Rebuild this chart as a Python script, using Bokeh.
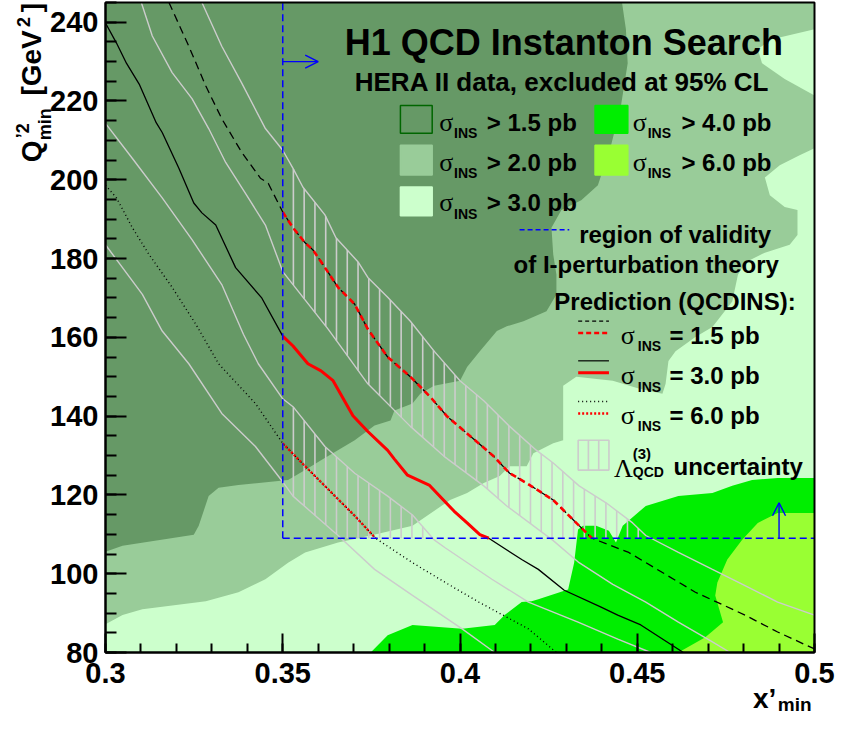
import numpy as np
from bokeh.plotting import figure
from bokeh.models import Range1d, Label, Arrow, OpenHead, FixedTicker, CustomJSTickFormatter
from bokeh.embed import file_html
from bokeh.resources import INLINE

# ---------------- data ----------------
X_VALID = 0.35     # region of validity of I-perturbation theory
Q2_VALID = 109.0

thresholds = [1.5, 2.0, 3.0, 4.0, 6.0]          # sigma_INS > ... pb
region_colors = ["#669966", "#99cc99", "#ccffcc", "#00ee00", "#99ff33"]

# boundary sigma>1.5 / sigma>2.0 (dark | medium)
dm_x = [0.3, 0.3048, 0.3249, 0.3263, 0.3291, 0.3319, 0.3375, 0.3515, 0.3563, 0.3608,
        0.3703, 0.3759, 0.3804, 0.3815, 0.3866, 0.3888, 0.3927, 0.4, 0.4020, 0.4056,
        0.4104, 0.4132, 0.4179, 0.4244, 0.4272, 0.4272, 0.4263, 0.4258, 0.4286, 0.4342,
        0.4389, 0.4426, 0.4454, 0.4473, 0.4468, 0.4457]
dm_y = [105.6, 107.1, 109.9, 112.2, 119.7, 121.8, 122.5, 123.8, 126.3, 128.8,
        133.9, 137.6, 138.9, 141.4, 143.2, 145.7, 147.7, 149.0, 152.5, 156.5,
        161.6, 162.8, 164.1, 166.6, 170.9, 175.9, 181.0, 187.8, 192.3, 194.8,
        198.6, 208.7, 218.8, 229.6, 238.2, 245.0]

# boundary sigma>2.0 / sigma>3.0 (medium | light)
ml_x = [0.3, 0.3048, 0.3104, 0.3283, 0.3375, 0.3451, 0.3515, 0.3563, 0.3656, 0.3748,
        0.3866, 0.3972, 0.4020, 0.4067, 0.4112, 0.4140, 0.4188, 0.4207, 0.4263, 0.4291,
        0.4291, 0.4291, 0.4328, 0.4431, 0.4504, 0.4571, 0.4580, 0.4588, 0.4608, 0.4664,
        0.4712, 0.4768, 0.4784, 0.4804, 0.4860, 0.4930, 0.4952, 0.4952, 0.4916, 0.4874,
        0.4860, 0.4902, 0.4958, 0.5]
ml_y = [87.2, 89.5, 91.0, 93.0, 95.3, 98.6, 102.8, 105.4, 107.9, 109.7,
        112.2, 118.7, 120.5, 123.0, 124.8, 127.3, 127.3, 130.6, 133.1, 133.9,
        141.4, 147.7, 150.0, 149.0, 147.0, 145.7, 148.2, 154.0, 156.5, 160.1,
        162.6, 169.1, 175.9, 179.0, 181.5, 183.5, 186.0, 192.3, 193.1, 196.1,
        200.6, 203.7, 206.2, 208.0]
blob_x = [0.5, 0.4880, 0.4840, 0.4852, 0.4916, 0.5]
blob_y = [238.2, 235.7, 233.2, 229.6, 225.6, 221.4]

# boundary sigma>4.0
br_x = [0.3748, 0.3796, 0.3866, 0.4006, 0.4098, 0.4126, 0.4174, 0.4202, 0.4221, 0.4305,
        0.4322, 0.4333, 0.4347, 0.4384, 0.4420, 0.4440, 0.4459, 0.4524, 0.4616, 0.4712,
        0.4768, 0.4824, 0.4896, 0.5]
br_y = [80.0, 84.4, 87.0, 86.0, 87.0, 89.5, 92.8, 93.0, 93.5, 96.0,
        102.8, 111.2, 112.2, 112.2, 110.9, 107.9, 112.2, 117.2, 119.7, 120.5,
        122.3, 123.8, 124.3, 124.3]

# boundary sigma>6.0
lm_x = [0.5, 0.4896, 0.4840, 0.4796, 0.4754, 0.4726, 0.4720, 0.4742, 0.4692, 0.4616]
lm_y = [115.4, 115.4, 112.9, 108.6, 103.6, 97.8, 94.5, 87.7, 83.9, 80.0]

# QCDINS predictions
p15_x = [0.3179, 0.3235, 0.3283, 0.3328, 0.3384, 0.3437, 0.3459, 0.35, 0.3529, 0.3563,
         0.3585, 0.3608, 0.3656, 0.3703, 0.3740, 0.3796, 0.3860, 0.3916, 0.3964, 0.4020,
         0.4095, 0.4140, 0.4188, 0.4263, 0.4336, 0.43725, 0.4476, 0.4571, 0.4664, 0.4804,
         0.4896, 0.5]
p15_y = [245.0, 233.9, 223.8, 215.5, 207.0, 200.4, 199.1, 191.8, 187.8, 184.0,
         182.2, 179.2, 172.7, 168.4, 162.1, 155.0, 150.0, 144.9, 139.9, 135.6,
         129.8, 125.5, 123.0, 118.7, 112.2, 109.0, 105.4, 100.3, 95.3, 89.5,
         85.2, 80.9]
p30_x = [0.3, 0.3031, 0.3059, 0.3095, 0.3143, 0.3160, 0.3207, 0.3249, 0.3272, 0.3311,
         0.3367, 0.3440, 0.35, 0.3529, 0.3571, 0.3608, 0.3642, 0.3698, 0.3740, 0.3796,
         0.3815, 0.3852, 0.3913, 0.3983, 0.4020, 0.4056, 0.40812, 0.4174, 0.4221, 0.4294,
         0.4398, 0.4445, 0.4510, 0.4630]
p30_y = [239.8, 234.7, 229.6, 224.3, 214.5, 212.0, 202.9, 194.1, 191.6, 188.5,
         177.7, 170.1, 160.3, 157.8, 153.3, 151.5, 149.0, 140.1, 136.1, 131.3,
         129.1, 125.0, 122.5, 115.9, 112.9, 109.9, 109.0, 103.6, 101.1, 95.8,
         91.5, 89.5, 87.0, 80.0]
p60_x = [0.3, 0.3031, 0.3076, 0.3123, 0.3188, 0.3255, 0.3319, 0.3423, 0.35, 0.3563,
         0.3703, 0.37619, 0.3866, 0.3958, 0.4053, 0.4193, 0.4272]
p60_y = [198.6, 195.4, 187.8, 181.0, 172.7, 163.3, 153.3, 143.2, 133.1, 127.3,
         114.7, 109.0, 102.8, 97.8, 92.8, 86.0, 80.0]

# Lambda_QCD uncertainty bands: 1.5 pb (upper/lower), 6.0 pb (upper/lower)
b15u_x = [0.3272, 0.3328, 0.3384, 0.3451, 0.35, 0.3529, 0.3557, 0.3619, 0.3650, 0.3712,
          0.3740, 0.3796, 0.3860, 0.3927, 0.4, 0.4067, 0.4140, 0.4216, 0.4263, 0.4336,
          0.4412, 0.4487, 0.4524, 0.4616, 0.4712, 0.4804, 0.4896, 0.5]
b15u_y = [245.0, 233.9, 224.6, 213.0, 207.5, 202.9, 198.1, 191.1, 185.3, 179.2,
          175.2, 170.2, 164.1, 156.5, 149.0, 143.9, 137.4, 131.3, 128.1, 122.3,
          118.0, 112.9, 109.7, 105.4, 101.1, 97.0, 92.8, 89.5]
b15l_x = [0.3101, 0.3132, 0.3188, 0.3244, 0.3291, 0.3339, 0.3398, 0.3451, 0.35, 0.3529,
          0.3628, 0.3740, 0.3860, 0.3955, 0.4067, 0.4132, 0.4196, 0.4263, 0.4336, 0.4431,
          0.4524, 0.4616, 0.4712, 0.4762]
b15l_y = [245.0, 236.5, 227.2, 220.6, 213.0, 204.4, 196.1, 188.5, 176.7, 173.4,
          162.1, 148.2, 137.4, 129.8, 122.3, 117.2, 112.9, 108.4, 102.8, 97.3,
          92.8, 87.7, 82.7, 80.0]
b60u_x = [0.3, 0.3076, 0.3160, 0.3244, 0.3328, 0.3389, 0.3431, 0.35, 0.3529, 0.3619,
          0.3703, 0.3796, 0.3866, 0.3927, 0.3958, 0.4090, 0.4193, 0.4333, 0.4445, 0.4538]
b60u_y = [214.3, 205.4, 195.4, 184.8, 173.4, 160.8, 153.3, 144.4, 142.4, 132.3,
          125.5, 119.7, 114.9, 108.6, 106.6, 98.6, 92.8, 87.7, 83.4, 80.0]
b60l_x = [0.3, 0.3104, 0.3160, 0.3235, 0.3328, 0.3423, 0.3496, 0.3529, 0.3656, 0.3759,
          0.3866, 0.4006, 0.4098]
b60l_y = [183.5, 170.9, 161.6, 153.3, 140.7, 132.3, 123.8, 119.7, 109.7, 101.1,
          94.5, 86.0, 80.0]

x_ticks = [0.3, 0.35, 0.4, 0.45, 0.5]
y_ticks = [80, 100, 120, 140, 160, 180, 200, 220, 240]
X_LIM = (0.3, 0.5)
Y_LIM = (80, 245)

# ---------------- figure ----------------
FONT = "Liberation Sans"
SERIF = "Liberation Serif"
W, H = 835, 714
# plot box inside the canvas (pixels from canvas top-left)
BOX_L, BOX_R, BOX_T, BOX_B = 105, 814, 2, 652
sx = (BOX_R - BOX_L) / (X_LIM[1] - X_LIM[0])
sy = (BOX_B - BOX_T) / (Y_LIM[1] - Y_LIM[0])
x_range = Range1d(X_LIM[0] - BOX_L / sx, X_LIM[1] + (W - BOX_R) / sx)
y_range = Range1d(Y_LIM[0] - (H - BOX_B) / sy, Y_LIM[1] + BOX_T / sy)

p = figure(width=W, height=H, x_range=x_range, y_range=y_range, title=None,
           output_backend="svg", toolbar_location=None, min_border=0)
p.background_fill_color = "white"
p.border_fill_color = "white"
p.outline_line_color = None
p.xgrid.grid_line_color = None
p.ygrid.grid_line_color = None

p.xaxis.fixed_location = Y_LIM[0]
p.yaxis.fixed_location = X_LIM[0]
p.xaxis.bounds = X_LIM
p.yaxis.bounds = Y_LIM
p.xaxis.ticker = FixedTicker(ticks=x_ticks, minor_ticks=list(np.round(np.arange(0.30, 0.5001, 0.01), 2)))
p.yaxis.ticker = FixedTicker(ticks=y_ticks, minor_ticks=list(range(80, 246, 5)))
p.xaxis.formatter = CustomJSTickFormatter(code="return String(Math.round(tick*100)/100)")
for ax in (p.xaxis[0], p.yaxis[0]):
    ax.axis_line_width = 2
    ax.major_tick_line_width = 2
    ax.minor_tick_line_width = 2
    ax.major_tick_out = 0
    ax.minor_tick_out = 0
    ax.major_label_text_font = FONT
    ax.major_label_text_font_style = "bold"
    ax.major_label_text_font_size = "29px"
    ax.major_label_text_color = "black"
p.xaxis.major_tick_in = 19
p.xaxis.minor_tick_in = 9
p.yaxis.major_tick_in = 21
p.yaxis.minor_tick_in = 11
p.xaxis.major_label_standoff = 10
p.yaxis.major_label_standoff = 7

# excluded regions
p.quad(left=X_LIM[0], right=X_LIM[1], bottom=Y_LIM[0], top=Y_LIM[1],
       fill_color=region_colors[0], line_color=None)
p.patch(dm_x + [0.5, 0.5, 0.3], dm_y + [245, 80, 80], fill_color=region_colors[1], line_color=None)
p.patch(ml_x + [0.5, 0.3], ml_y + [80, 80], fill_color=region_colors[2], line_color=None)
p.patch(blob_x, blob_y, fill_color=region_colors[2], line_color=None)
p.patch(br_x + [0.5], br_y + [80], fill_color=region_colors[3], line_color=None)
p.patch(lm_x + [0.5], lm_y + [80], fill_color=region_colors[4], line_color=None)

# uncertainty band lines
GRAY = "#cccccc"
for bx, by in ((b15u_x, b15u_y), (b15l_x, b15l_y), (b60u_x, b60u_y), (b60l_x, b60l_y)):
    p.line(bx, by, line_color=GRAY, line_width=1.4)

# hatching inside region of validity
def hatch(ux, uy, lx, ly):
    hx = np.arange(X_VALID + 0.003, 0.5, 0.00304)
    top = np.interp(hx, ux, uy)
    bot = np.maximum(np.interp(hx, lx, ly), Q2_VALID)
    m = top > bot
    p.segment(hx[m], bot[m], hx[m], top[m], line_color=GRAY, line_width=1.6)

hatch(b15u_x, b15u_y, b15l_x, b15l_y)
hatch(b60u_x, b60u_y, b60l_x, b60l_y)

# predictions
def valid(xs, ys):
    xs, ys = np.array(xs), np.array(ys)
    m = (xs >= X_VALID - 1e-9) & (ys >= Q2_VALID - 1e-9)
    return xs[m], ys[m]

p.line(p15_x, p15_y, line_color="black", line_width=1.3, line_dash="8 5")
p.line(p30_x, p30_y, line_color="black", line_width=1.3)
p.line(p60_x, p60_y, line_color="black", line_width=1.4, line_dash="1 3")
vx, vy = valid(p15_x, p15_y)
p.line(vx, vy, line_color="red", line_width=2.6, line_dash="6 4")
vx, vy = valid(p30_x, p30_y)
p.line(vx, vy, line_color="red", line_width=3)
vx, vy = valid(p60_x, p60_y)
p.line(vx, vy, line_color="red", line_width=2.4, line_dash="2 2")

# region of validity
p.line([X_VALID, X_VALID], [Q2_VALID, Y_LIM[1]], line_color="blue", line_width=1.5, line_dash="7 4")
p.line([X_VALID, X_LIM[1]], [Q2_VALID, Q2_VALID], line_color="blue", line_width=1.5, line_dash="7 4")
p.add_layout(Arrow(end=OpenHead(size=13, line_color="blue", line_width=1.4),
                   x_start=X_VALID, y_start=230, x_end=0.36, y_end=230,
                   line_color="blue", line_width=1.4))
p.add_layout(Arrow(end=OpenHead(size=13, line_color="blue", line_width=1.4),
                   x_start=0.49, y_start=Q2_VALID, x_end=0.49, y_end=118,
                   line_color="blue", line_width=1.4))

# frame
p.quad(left=X_LIM[0], right=X_LIM[1], bottom=Y_LIM[0], top=Y_LIM[1],
       fill_color=None, line_color="black", line_width=2)

# ---------------- texts / legend (positions in reference pixels) ----------------
def dx(px):
    return 0.3 + (px - 116) * 0.2 / 714

def dy(py):
    return 80 + (660.6 - py) * 165 / 654.3

def lab(text, px, py, size, font=FONT, style="bold", angle=0, color="black"):
    p.add_layout(Label(x=dx(px), y=dy(py), text=text, text_font=font, text_font_style=style,
                       text_font_size=f"{size}px", text_color=color, angle=angle,
                       text_align="left", text_baseline="alphabetic"))

lab("H1 QCD Instanton Search", 357, 47, 36)
lab("HERA II data, excluded at 95% CL", 367, 86, 26)

rows = [(110, 138, 127), (150, 180, 167), (192, 221, 208)]
legend_pos = [(0, 0), (0, 1), (0, 2), (1, 0), (1, 1)]
for (col, r), t, c in zip(legend_pos, thresholds, region_colors):
    top, bot, base = rows[r]
    bl, br_, sxp, ix, tx = (413, 445, 452, 467, 500) if col == 0 else (609, 642, 647, 662, 696)
    p.quad(left=dx(bl), right=dx(br_), top=dy(top), bottom=dy(bot), fill_color=c,
           line_color="#006600" if t == thresholds[0] else c, line_width=1.5)
    lab("σ", sxp, base, 26, font=SERIF, style="normal")
    lab("INS", ix, base + 11, 14)
    lab(f"> {t:.1f} pb", tx, base, 24)

p.line([dx(533), dx(583)], [dy(235)] * 2, line_color="blue", line_width=1.5, line_dash="5 3")
lab("region of validity", 593, 240, 24)
lab("of I-perturbation theory", 527, 270, 24)
lab("Prediction (QCDINS):", 568, 307, 24)

pred_rows = [(1.5, 341, 327, 339, "4 3", "5 3", 1.2, 2.5),
             (3.0, 382, 367, 379, "solid", "solid", 1.2, 3),
             (6.0, 422, 408, 420, "1 3", "2 2", 1.4, 2.4)]
for t, base, yb, yr, db, dr, wb, wr in pred_rows:
    p.line([dx(592), dx(623)], [dy(yb)] * 2, line_color="black", line_width=wb, line_dash=db)
    p.line([dx(592), dx(623)], [dy(yr)] * 2, line_color="red", line_width=wr, line_dash=dr)
    lab("σ", 635, base, 26, font=SERIF, style="normal")
    lab("INS", 652, base + 11, 14)
    lab(f"= {t:.1f} pb", 684, base, 24)

p.quad(left=dx(592), right=dx(623), top=dy(447), bottom=dy(477), fill_color=None,
       line_color=GRAY, line_width=1.6)
p.segment([dx(602.3), dx(612.7)], [dy(477)] * 2, [dx(602.3), dx(612.7)], [dy(447)] * 2,
          line_color=GRAY, line_width=1.6)
lab("Λ", 628, 475, 26, font=SERIF, style="normal")
lab("(3)", 647, 460, 15)
lab("QCD", 647, 479, 14)
lab("uncertainty", 688, 473, 24)

# axis titles
lab("x’", 768, 707, 28)
lab("min", 793, 713, 19)
A = np.pi / 2
lab("Q", 41, 167, 28, angle=A)
lab("’2", 33, 143, 18, angle=A)
lab("min", 55, 145, 18, angle=A)
lab("[GeV", 41, 100, 28, angle=A)
lab("2", 33, 31, 18, angle=A)
lab("]", 41, 16, 28, angle=A)

open("out.html", "w").write(file_html(p, INLINE))
